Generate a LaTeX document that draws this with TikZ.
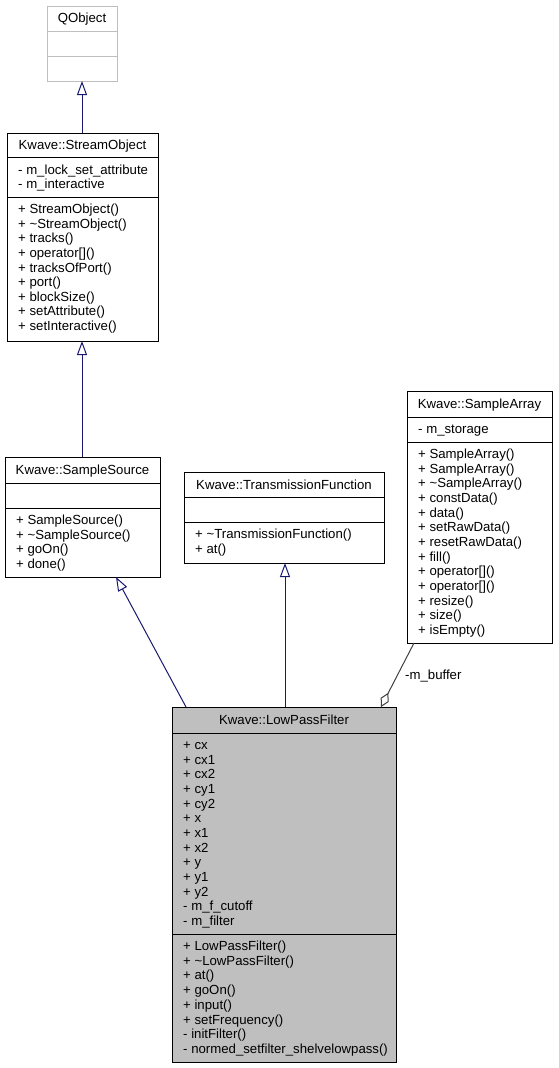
\documentclass[tikz,border=0pt]{standalone}
\usepackage{fontspec}
\setmainfont{Liberation Sans}
\usetikzlibrary{arrows.meta,calc}
\definecolor{navyline}{HTML}{191970}
\definecolor{lgray}{HTML}{BFBFBF}
\definecolor{agggray}{HTML}{404040}
\begin{document}
\begin{tikzpicture}[x=1pt,y=-1pt,
  cls/.style={draw=black, line width=1pt, inner sep=0pt, outer sep=0pt, anchor=north west},
  divl/.style={line width=1pt},
  txt/.style={anchor=base west, inner sep=0pt, font=\fontsize{13.2}{14.67}\selectfont},
  ttl/.style={anchor=base, inner sep=0pt, font=\fontsize{13.2}{14.67}\selectfont},
  inh/.style={draw=navyline, line width=1pt, -{Triangle[open,length=14pt,width=10pt,fill=white]}},
  agg/.style={draw=agggray, line width=1pt, -{Diamond[open,length=16pt,width=9pt,fill=white]}}]
\useasboundingbox (0,0) rectangle (558,1068);

% QObject
\node[cls, draw=lgray, minimum width=70pt, minimum height=75pt] (qo) at (47,6) {};
\draw[divl, lgray] (47,31) -- (117,31);
\draw[divl, lgray] (47,56) -- (117,56);
\node[ttl] (qo-t) at (82,23) {QObject};

% StreamObject
\node[cls, minimum width=151pt, minimum height=208pt] (so) at (7,133) {};
\draw[divl] (7,157) -- (158,157);
\draw[divl] (7,197) -- (158,197);
\node[ttl] (so-t) at (82.5,149.5) {Kwave::StreamObject};
\foreach \t [count=\i] in {- m\_lock\_set\_attribute, - m\_interactive}
  \node[txt] (so-a\i) at (18,{174+14.6*(\i-1)}) {\t};
\foreach \t [count=\i] in {+ StreamObject(), + \textasciitilde StreamObject(), + tracks(), + operator[](), + tracksOfPort(), + port(), + blockSize(), + setAttribute(), + setInteractive()}
  \node[txt] (so-m\i) at (18,{213.7+14.6*(\i-1)}) {\t};

% SampleSource
\node[cls, minimum width=155pt, minimum height=120pt] (ss) at (5,457) {};
\draw[divl] (5,483) -- (160,483);
\draw[divl] (5,508) -- (160,508);
\node[ttl] (ss-t) at (82.5,474.5) {Kwave::SampleSource};
\foreach \t [count=\i] in {+ SampleSource(), + \textasciitilde SampleSource(), + goOn(), + done()}
  \node[txt] (ss-m\i) at (16,{524.5+14.6*(\i-1)}) {\t};

% TransmissionFunction
\node[cls, minimum width=200pt, minimum height=91pt] (tf) at (184,472) {};
\draw[divl] (184,497) -- (384,497);
\draw[divl] (184,522) -- (384,522);
\node[ttl] (tf-t) at (284,489) {Kwave::TransmissionFunction};
\foreach \t [count=\i] in {+ \textasciitilde TransmissionFunction(), + at()}
  \node[txt] (tf-m\i) at (195,{538.7+14.6*(\i-1)}) {\t};

% SampleArray
\node[cls, minimum width=145pt, minimum height=252pt] (sa) at (407,391) {};
\draw[divl] (407,417) -- (552,417);
\draw[divl] (407,442) -- (552,442);
\node[ttl] (sa-t) at (479.5,408.5) {Kwave::SampleArray};
\node[txt] (sa-a1) at (418,433) {- m\_storage};
\foreach \t [count=\i] in {+ SampleArray(), + SampleArray(), + \textasciitilde SampleArray(), + constData(), + data(), + setRawData(), + resetRawData(), + fill(), + operator[](), + operator[](), + resize(), + size(), + isEmpty()}
  \node[txt] (sa-m\i) at (418,{458.5+14.67*(\i-1)}) {\t};

% LowPassFilter
\node[cls, fill=lgray, minimum width=224pt, minimum height=355pt] (lpf) at (172,707) {};
\draw[divl] (172,733) -- (396,733);
\draw[divl] (172,934) -- (396,934);
\node[ttl] (lpf-t) at (284,724.5) {Kwave::LowPassFilter};
\foreach \t [count=\i] in {+ cx, + cx1, + cx2, + cy1, + cy2, + x, + x1, + x2, + y, + y1, + y2, - m\_f\_cutoff, - m\_filter}
  \node[txt] (lpf-a\i) at (183,{749.5+14.67*(\i-1)}) {\t};
\foreach \t [count=\i] in {+ LowPassFilter(), + \textasciitilde LowPassFilter(), + at(), + goOn(), + input(), + setFrequency(), - initFilter(), - normed\_setfilter\_shelvelowpass()}
  \node[txt] (lpf-m\i) at (183,{950.5+14.7*(\i-1)}) {\t};

% connectors
\draw[inh] ($(so.north west)+(75,0)$) -- ($(qo.south west)+(35,0)$);
\draw[inh] ($(ss.north west)+(77,0)$) -- ($(so.south west)+(75,0)$);
\draw[inh] ($(lpf.north west)+(14,0)$) -- ($(ss.south west)+(111,0)$);
\draw[inh] ($(lpf.north west)+(113,0)$) -- ($(tf.south west)+(101,0)$);
\draw[agg] ($(sa.south west)+(7,0)$) -- ($(lpf.north east)+(-15,0)$);
\node[txt] (mb) at (405,679.5) {-m\_buffer};
\end{tikzpicture}
\end{document}
